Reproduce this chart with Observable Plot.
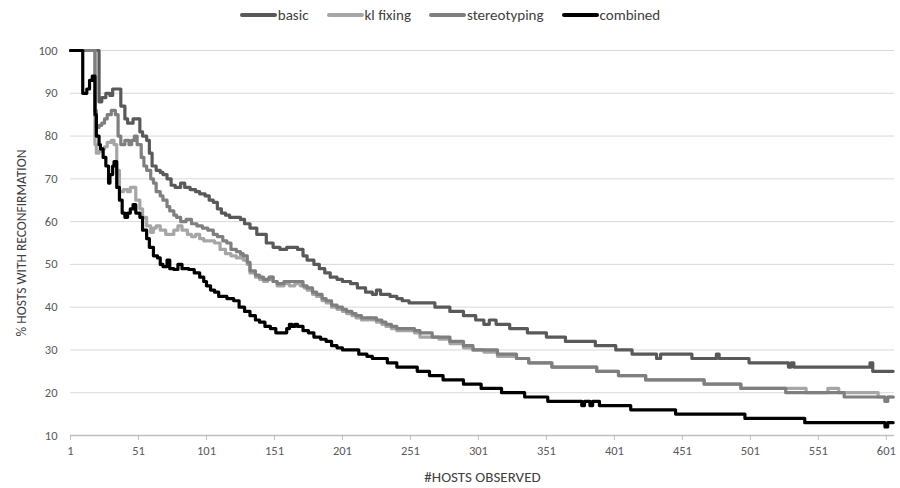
<!DOCTYPE html>
<html>
<head>
<meta charset="utf-8">
<script src="https://cdn.jsdelivr.net/npm/d3@7"></script>
<script src="https://cdn.jsdelivr.net/npm/@observablehq/plot@0.6"></script>
<style>
  html, body { margin: 0; padding: 0; background: #fff; }
  #wrap { position: relative; width: 900px; height: 488px; font-family: Carlito, Lato, sans-serif; }
  #legend { position: absolute; top: 6px; left: 0; width: 900px; display: flex; justify-content: center; gap: 18px; font-size: 15px; color: #404040; }
  #legend .item { display: flex; align-items: center; }
  #legend .sw { display: inline-block; width: 37px; height: 4px; border-radius: 2px; margin-right: 1px; }
</style>
</head>
<body>
<div id="wrap">
  <div id="legend"></div>
  <div id="chart"></div>
</div>
<script>
const seriesNames = ["basic", "kl fixing", "stereotyping", "combined"];
const seriesColors = ["#595959", "#a6a6a6", "#7f7f7f", "#000000"];
const xTicks = [1, 51, 101, 151, 201, 251, 301, 351, 401, 451, 501, 551, 601];
const yTicks = [10, 20, 30, 40, 50, 60, 70, 80, 90, 100];

// change points [hosts observed, % hosts with reconfirmation]
const basic = [[1,100],[22,88],[24,89],[27,90],[30,89.5],[32,91],[36,91],[38,87],[41,84],[43,83],[47,84],[50,84],[52,81],[54,80],[57,79],[59,76],[61,73],[64,72],[67,71.5],[69,71],[72,70],[75,68.5],[78,68],[82,69],[85,68],[89,67.5],[93,67],[96,66.5],[100,66],[103,65],[106,64.5],[109,63],[112,62],[115,61.5],[118,61],[126,60.5],[129,59.5],[133,58.5],[138,57],[145,55],[150,54],[155,53.5],[160,54],[164,54],[168,53.5],[172,52],[175,51],[180,50],[184,49],[188,48],[192,47],[197,46.5],[201,46],[207,45.5],[212,44.5],[218,43.5],[223,43],[226,44],[229,43],[236,42.5],[241,42],[245,41.5],[250,41],[269,40],[280,39],[290,38],[299,37],[305,36],[309,37],[314,36],[324,35],[337,34],[351,33],[365,32],[387,31],[402,30],[414,29],[432,28],[435,29],[458,28],[476,29],[478,28],[500,27],[529,26],[531,27],[533,26],[589,27],[591,25],[606,25]];
const klFixing = [[1,100],[19,78],[20,76],[22,76.5],[24,77],[26,77.5],[28,78.5],[31,79],[33,78],[35,72],[37,67],[40,67.5],[43,67],[45,68],[47,68],[49,65],[52,63],[54,61],[57,59],[60,57.5],[62,58.5],[64,59],[67,58],[71,57],[74,57],[77,58],[80,59],[83,58],[87,57],[90,56.5],[93,57],[96,56],[99,55.5],[103,55.5],[107,55],[111,53.5],[115,52.5],[119,52],[123,51.5],[126,52],[128,51],[131,50],[133,48],[137,47],[140,46.5],[143,46],[146,46.5],[148,47],[150,46],[153,45],[158,45.5],[162,45],[166,45.5],[170,45],[173,44.5],[175,44],[179,43],[182,42.5],[186,41.5],[189,41],[193,40],[197,39.5],[201,39],[204,38.5],[208,38],[211,37.5],[215,37],[220,37.5],[222,37],[226,36.5],[230,36],[233,35.5],[237,35],[241,34.5],[250,34.5],[254,34],[258,33],[272,32.5],[280,31.5],[290,30.5],[297,30],[305,29.5],[315,28.5],[329,28],[338,27],[355,26],[388,25],[404,24],[424,23],[467,22],[494,21],[542,20],[558,21],[566,20],[595,19],[600,18],[602,19],[606,19]];
const stereotyping = [[1,100],[19,86],[20,82],[22,82.5],[24,83],[26,84],[28,85],[31,86],[34,85],[36,80],[38,78],[41,79],[44,78],[46,79],[48,80],[50,78],[53,75],[55,73],[57,72],[60,70],[62,69],[64,67],[67,66],[69,65],[72,63.5],[74,62.5],[77,61.5],[79,61],[82,60],[86,60.5],[90,59.5],[94,59],[98,58.5],[102,58],[106,57],[109,56.5],[113,55.5],[116,55],[119,53.5],[123,53],[126,52.5],[128,52],[131,50.5],[133,48.5],[137,47.5],[140,47],[143,46.5],[147,47],[150,46],[153,45.5],[158,46],[162,46],[172,45],[175,44.5],[179,43.5],[182,43],[186,42],[189,41.5],[193,40.5],[197,40],[201,39.5],[204,39],[208,38.5],[211,38],[215,37.5],[226,37],[230,36.5],[233,36],[237,35.5],[241,35],[254,34.5],[258,34],[267,33],[280,32],[290,31],[297,30],[315,29],[329,28],[338,27],[355,26],[388,25],[404,24],[424,23],[467,22],[494,21],[527,20],[570,19],[600,18],[602,19],[606,19]];
const combined = [[1,100],[10,90],[13,91],[15,93],[17,94],[19,85],[20,80],[22,78],[23,77],[25,75],[27,73],[29,69],[30,71],[32,73],[33,74],[35,68],[37,65],[39,62],[41,61],[43,62],[45,63],[47,64],[49,62],[52,61],[54,58],[57,56],[59,54],[62,52],[65,51.5],[67,50],[69,49.5],[72,51],[74,49],[77,48.8],[80,50],[83,49],[88,48.8],[92,48],[96,47],[99,46],[101,45],[104,44],[107,43.5],[110,42.5],[116,42],[121,41.5],[125,40],[129,39],[133,38],[137,37],[140,36.5],[144,35.5],[148,35],[152,34],[160,35],[162,36],[164,35.5],[166,36],[168,35.5],[172,34.5],[176,34],[180,33],[185,32.5],[189,32],[193,31],[197,30.5],[201,30],[213,29],[219,28.5],[223,28],[234,27],[241,26],[256,25],[265,24],[275,23],[290,22],[303,21],[318,20],[335,19],[352,18],[377,17],[379,18],[383,17],[385,18],[390,17],[413,16],[446,15],[497,14],[541,13],[600,12],[602,13],[606,13]];

const seriesData = [basic, klFixing, stereotyping, combined];
const rows = seriesData.flatMap((s, i) => s.map(([x, y]) => ({series: seriesNames[i], x, y})));

const legend = document.getElementById("legend");
seriesNames.forEach((n, i) => {
  const it = document.createElement("div");
  it.className = "item";
  it.innerHTML = `<span class="sw" style="background:${seriesColors[i]}"></span><span>${n}</span>`;
  legend.appendChild(it);
});

const fontFamily = "Carlito, Lato, sans-serif";
const chart = Plot.plot({
  width: 900,
  height: 488,
  marginTop: 50,
  marginBottom: 53,
  marginLeft: 70,
  marginRight: 6,
  style: {fontFamily, fontSize: "12.5px", color: "#595959", background: "#fff"},
  x: {domain: [1, 607]},
  y: {domain: [10, 100]},
  color: {domain: seriesNames, range: seriesColors},
  marks: [
    Plot.ruleY(yTicks.filter(d => d > 10), {stroke: "#d9d9d9", strokeWidth: 1}),
    Plot.ruleY([10], {stroke: "#bfbfbf", strokeWidth: 1.5}),
    Plot.axisY({ticks: yTicks, tickSize: 0, tickPadding: 13, fontSize: 12.5, fill: "#595959", label: null}),
    Plot.axisY({ticks: [], tickSize: 0, fontSize: 13.5, fill: "#404040",
      label: "% HOSTS WITH RECONFIRMATION", labelAnchor: "center", labelArrow: "none", labelOffset: 54}),
    Plot.axisX({ticks: xTicks, tickSize: 5, tickPadding: 6, stroke: "#bfbfbf", fontSize: 12.5, fill: "#595959",
      tickFormat: d => String(d), label: null}),
    Plot.axisX({ticks: [], tickSize: 0, fontSize: 15, fill: "#404040",
      label: "#HOSTS OBSERVED", labelAnchor: "center", labelArrow: "none", labelOffset: 46}),
    ...seriesNames.map((n, i) => Plot.line(rows.filter(r => r.series === n), {
      x: "x", y: "y", stroke: seriesColors[i], strokeWidth: 3.2, curve: "step-after", strokeLinejoin: "round"
    }))
  ]
});
document.getElementById("chart").appendChild(chart);
</script>
</body>
</html>
